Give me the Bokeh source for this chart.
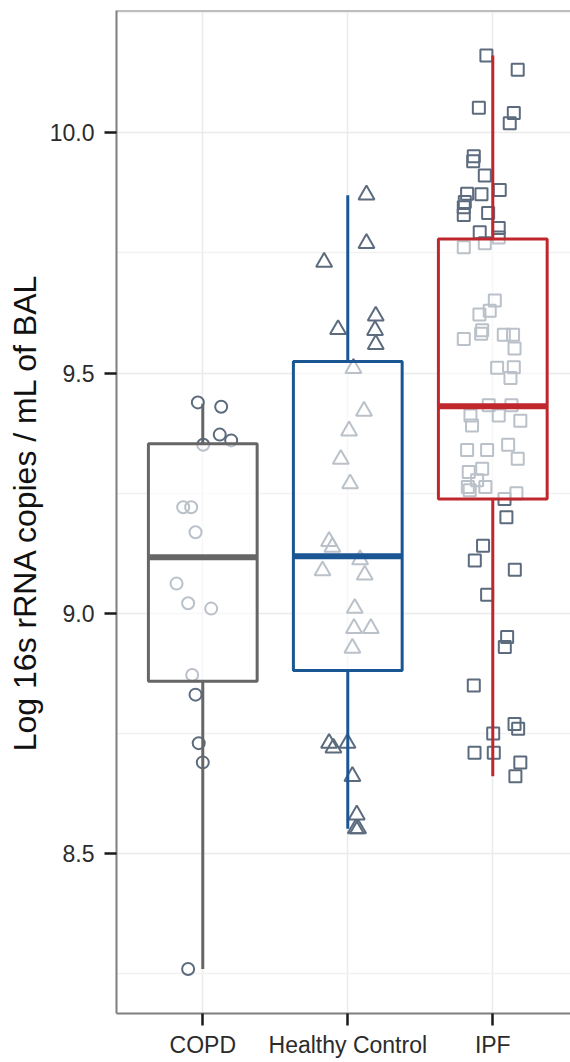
from bokeh.plotting import figure
from bokeh.models import FixedTicker, Span
from bokeh.embed import file_html
from bokeh.resources import INLINE

# ---------------- data ----------------
categories = ["COPD", "Healthy Control", "IPF"]
cat_pos = [1, 2, 3]
y_ticks = [8.5, 9.0, 9.5, 10.0]
y_tick_labels = ["8.5", "9.0", "9.5", "10.0"]
y_minor = [8.25, 8.75, 9.25, 9.75, 10.25]

# boxplot statistics
box_lower = [8.260, 8.552, 8.661]
box_q1 = [8.859, 8.881, 9.238]
box_median = [9.117, 9.119, 9.431]
box_q3 = [9.353, 9.524, 9.779]
box_upper = [9.436, 9.870, 10.161]
box_colors = ["#666666", "#1b5694", "#c0272d"]

# jittered points: value and horizontal jitter (category units)
copd_y = [9.439, 9.430, 9.372, 9.360, 9.351, 9.221, 9.221, 9.169, 9.062, 9.021,
          9.010, 8.872, 8.831, 8.730, 8.690, 8.260]
copd_dx = [-0.034, 0.127, 0.117, 0.196, 0.003, -0.135, -0.080, -0.050, -0.181, -0.101,
           0.058, -0.073, -0.050, -0.028, 0.000, -0.101]

hc_y = [9.871, 9.770, 9.731, 9.591, 9.619, 9.589, 9.560, 9.510, 9.421, 9.380,
        9.321, 9.270, 9.150, 9.138, 9.089, 9.112, 9.080, 9.011, 8.969, 8.969,
        8.928, 8.730, 8.720, 8.730, 8.661, 8.581, 8.552, 8.552]
hc_dx = [0.129, 0.129, -0.163, -0.067, 0.193, 0.188, 0.193, 0.039, 0.112, 0.009,
         -0.048, 0.016, -0.129, -0.106, -0.174, 0.085, 0.117, 0.048, 0.043, 0.159,
         0.032, -0.129, -0.099, -0.002, 0.032, 0.062, 0.071, 0.055]

ipf_y = [10.161, 10.131, 10.052, 10.041, 10.020, 9.951, 9.941, 9.911, 9.881, 9.873,
         9.872, 9.856, 9.845, 9.829, 9.833, 9.802, 9.793, 9.782, 9.762, 9.770,
         9.651, 9.630, 9.622, 9.589, 9.582, 9.571, 9.580, 9.580, 9.551, 9.511,
         9.512, 9.490, 9.433, 9.433, 9.412, 9.391, 9.412, 9.401, 9.340, 9.340,
         9.351, 9.322, 9.294, 9.301, 9.277, 9.263, 9.256, 9.263, 9.238, 9.250,
         9.200, 9.141, 9.110, 9.091, 9.039, 8.951, 8.930, 8.850, 8.770, 8.760,
         8.750, 8.710, 8.710, 8.690, 8.661]
ipf_dx = [-0.044, 0.172, -0.096, 0.145, 0.117, -0.131, -0.135, -0.055, 0.048, -0.177,
          -0.078, -0.193, -0.200, -0.200, -0.032, 0.041, -0.090, 0.041, -0.200, -0.055,
          0.014, -0.021, -0.092, -0.073, -0.080, -0.200, 0.076, 0.140, 0.150, 0.030,
          0.145, 0.122, -0.028, 0.129, -0.154, -0.143, 0.041, 0.190, -0.177, -0.039,
          0.106, 0.172, -0.166, -0.073, -0.108, -0.172, -0.159, -0.051, 0.081, 0.163,
          0.094, -0.067, -0.124, 0.152, -0.039, 0.099, 0.083, -0.131, 0.150, 0.175,
          0.003, -0.126, 0.007, 0.190, 0.156]

# ---------------- figure ----------------
Y_END = 10.2545
Y_START = 8.1675
X_START, X_END = 0.405, 3.536

FONT = "Liberation Sans"
BORDER = "#7f7f7f"
POINT = "#5c6b7e"

p = figure(width=570, height=1062, output_backend="svg", toolbar_location=None,
           x_range=(X_START, X_END), y_range=(Y_START, Y_END),
           min_border_left=116, min_border_right=0, min_border_top=10,
           min_border_bottom=49)
p.outline_line_color = None
p.background_fill_color = "white"
p.border_fill_color = "white"

# points (drawn first, beneath the boxes)
p.scatter([cat_pos[0] + d for d in copd_dx], copd_y, marker="circle", size=12,
          fill_color=None, line_color=POINT, line_width=2)
p.scatter([cat_pos[1] + d for d in hc_dx], hc_y, marker="triangle", size=16,
          fill_color=None, line_color=POINT, line_width=2)
p.scatter([cat_pos[2] + d for d in ipf_dx], ipf_y, marker="square", size=12,
          fill_color=None, line_color=POINT, line_width=2)

half = 0.375
p.segment(cat_pos, box_q3, cat_pos, box_upper, line_color=box_colors, line_width=3)
p.segment(cat_pos, box_q1, cat_pos, box_lower, line_color=box_colors, line_width=3)
p.quad(left=[c - half for c in cat_pos], right=[c + half for c in cat_pos],
       bottom=box_q1, top=box_q3, fill_color="white", fill_alpha=0.58,
       line_color=box_colors, line_width=3)
p.segment([c - half for c in cat_pos], box_median, [c + half for c in cat_pos], box_median,
          line_color=box_colors, line_width=6)

# axes
p.xaxis.ticker = FixedTicker(ticks=cat_pos)
p.xaxis.major_label_overrides = {c: lab for c, lab in zip(cat_pos, categories)}
p.yaxis.ticker = FixedTicker(ticks=y_ticks, minor_ticks=y_minor)
p.yaxis.major_label_overrides = {v: lab for v, lab in zip(y_ticks, y_tick_labels)}

for ax in (p.xaxis, p.yaxis):
    ax.axis_line_color = BORDER
    ax.axis_line_width = 2
    ax.major_tick_line_color = "#1a1a1a"
    ax.major_tick_line_width = 2.5
    ax.major_tick_out = 12
    ax.major_tick_in = 0
    ax.minor_tick_line_color = None
    ax.major_label_text_font = FONT
    ax.major_label_text_font_size = "23px"
    ax.major_label_text_color = "#2b2b2b"
p.xaxis.major_label_standoff = 6
p.yaxis.major_label_standoff = 10

p.yaxis.axis_label = "Log 16s rRNA copies / mL of BAL"
p.yaxis.axis_label_text_font = FONT
p.yaxis.axis_label_text_font_size = "32px"
p.yaxis.axis_label_text_font_style = "normal"
p.yaxis.axis_label_text_color = "#111111"
p.yaxis.axis_label_standoff = 4

p.xgrid.grid_line_color = "#ebebeb"
p.xgrid.grid_line_width = 1.5
p.ygrid.grid_line_color = "#ebebeb"
p.ygrid.grid_line_width = 1.5
p.ygrid.minor_grid_line_color = "#f2f2f2"
p.ygrid.minor_grid_line_width = 1.5

p.add_layout(Span(location=Y_END, dimension="width", line_color=BORDER, line_width=2))

open("out.html", "w").write(file_html(p, INLINE, title="plot"))
